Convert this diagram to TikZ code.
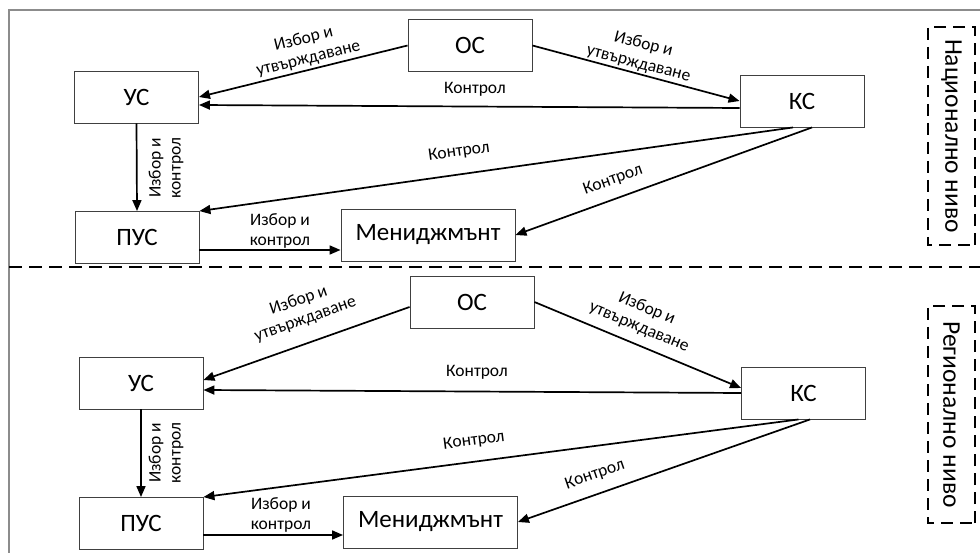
\documentclass[tikz,border=0pt]{standalone}
\usepackage{fontspec}
\setmainfont{Carlito}
\usetikzlibrary{arrows.meta}

\begin{document}
\begin{tikzpicture}[x=1pt,y=-1pt,
  box/.style={draw=black!75, line width=0.9pt, fill=white, minimum height=52pt,
    inner sep=0pt, font=\fontsize{25}{28}\selectfont},
  sbox/.style={box, minimum width=124pt},
  wbox/.style={box, minimum width=174pt},
  link/.style={line width=1.7pt, -{Triangle[length=11pt,width=9pt]}},
  lbl/.style={font=\fontsize{17.5}{20}\selectfont, align=center, inner sep=0pt},
  level/.style={draw, line width=2.6pt, dash pattern=on 12pt off 7pt,
    inner sep=0pt, font=\fontsize{25.5}{28}\selectfont},
  sep/.style={line width=2.6pt, dash pattern=on 13pt off 7pt}
]
\useasboundingbox (0,0) rectangle (980,553);
\fill[white] (0,0) rectangle (980,553);
% outer frame
\draw[black!45, line width=1.8pt] (9,570) -- (9,10) -- (995,10);

% ---------- national level ----------
\node[sbox] (os1)  at (470,45.5)  {ОС};
\node[sbox] (us1)  at (136.5,97)  {УС};
\node[sbox] (pus1) at (137,237.5) {ПУС};
\node[wbox] (mg1)  at (428,235)   {Мениджмънт};
\node[sbox] (ks1)  at (802,101)   {КС};
\node[level, rotate=-90, minimum width=218pt, minimum height=47pt] (nat) at (951.5,136) {Национално ниво};

\draw[link] (os1.west) -- (us1.east);
\draw[link] (os1.east) -- (ks1.west);
\draw[link] ([yshift=-7pt]ks1.west) -- ([yshift=-8pt]us1.east);
\draw[link] ([xshift=-9pt]ks1.south) -- (pus1.north east);
\draw[link] ([xshift=10pt]ks1.south) -- (mg1.east);
\draw[link] (us1.south) -- (pus1.north);
\draw[link] ([yshift=-12.5pt]pus1.east) -- ([yshift=-15pt]mg1.west);

\node[lbl, rotate=13.8]  (a1) at (306,49)  {Избор и\\утвърждаване};
\node[lbl, rotate=-14.3] (b1) at (641,54)  {Избор и\\утвърждаване};
\node[lbl]               (c1) at (475,89)  {Контрол};
\node[lbl, rotate=7.9]   (d1) at (459,152) {Контрол};
\node[lbl, rotate=19.6]  (e1) at (613,180) {Контрол};
\node[lbl, rotate=90]    (f1) at (166,168) {Избор и\\контрол};
\node[lbl]               (g1) at (280,231) {Избор и\\контрол};

% separator between the two levels
\draw[sep] (9,267) -- (980,267);

% ---------- regional level ----------
\node[sbox] (os2)  at (472,302)   {ОС};
\node[sbox] (us2)  at (141,383)   {УС};
\node[sbox] (pus2) at (141,523.5) {ПУС};
\node[wbox] (mg2)  at (430.5,522) {Мениджмънт};
\node[sbox] (ks2)  at (803.5,393) {КС};
\node[level, rotate=-90, minimum width=217pt, minimum height=47pt] (reg) at (951.5,414.5) {Регионално ниво};

\draw[link] ([yshift=-5pt]os2.west) -- ([yshift=3pt]us2.east);
\draw[link] (os2.east) -- ([yshift=5pt]ks2.west);
\draw[link] (ks2.west) -- ([yshift=-7pt]us2.east);
\draw[link] ([xshift=-5pt]ks2.south) -- (pus2.north east);
\draw[link] ([xshift=6.5pt]ks2.south) -- (mg2.east);
\draw[link] (us2.south) -- (pus2.north);
\draw[link] ([yshift=-11.5pt]pus2.east) -- ([yshift=-13pt]mg2.west);

\node[lbl, rotate=19.5]  (a2) at (302,310) {Избор и\\утвърждаване};
\node[lbl, rotate=-22.7] (b2) at (643,318) {Избор и\\утвърждаване};
\node[lbl]               (c2) at (477,372) {Контрол};
\node[lbl, rotate=7.3]   (d2) at (474,441) {Контрол};
\node[lbl, rotate=19]    (e2) at (595,475) {Контрол};
\node[lbl, rotate=90]    (f2) at (166,453) {Избор и\\контрол};
\node[lbl]               (g2) at (281,515) {Избор и\\контрол};
\end{tikzpicture}
\end{document}
